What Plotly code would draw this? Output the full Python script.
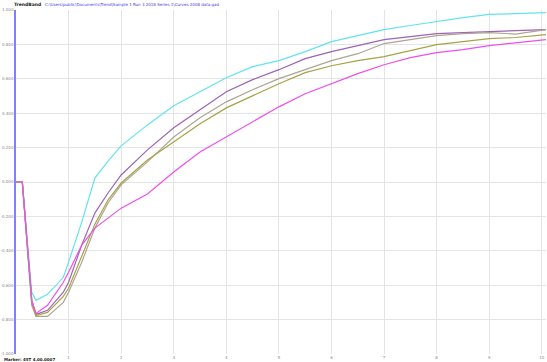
import plotly.graph_objects as go

x = [0, 0.12, 0.3, 0.38, 0.6, 0.9, 1.0, 1.25, 1.5, 1.75, 2.0, 2.5, 3, 3.5, 4, 4.5,
     5, 5.5, 6, 6.5, 7, 7.5, 8, 8.5, 9, 9.5, 10, 10.08]

cyan = [0, 0, -0.641, -0.688, -0.653, -0.554, -0.466, -0.233, 0.023, 0.122, 0.210, 0.332,
        0.443, 0.525, 0.606, 0.671, 0.706, 0.758, 0.816, 0.851, 0.886, 0.910, 0.933,
        0.956, 0.974, 0.980, 0.985, 0.985]
purple = [0, 0, -0.688, -0.770, -0.746, -0.641, -0.583, -0.367, -0.181, -0.064, 0.041, 0.187,
          0.315, 0.420, 0.525, 0.595, 0.653, 0.717, 0.758, 0.793, 0.828, 0.845, 0.863,
          0.869, 0.875, 0.880, 0.886, 0.886]
grey = [0, 0, -0.717, -0.781, -0.781, -0.700, -0.641, -0.466, -0.268, -0.122, -0.017, 0.117,
        0.262, 0.373, 0.466, 0.536, 0.601, 0.653, 0.706, 0.746, 0.805, 0.828, 0.851,
        0.863, 0.869, 0.860, 0.886, 0.886]
olive = [0, 0, -0.706, -0.776, -0.758, -0.665, -0.618, -0.426, -0.245, -0.105, -0.006, 0.128,
         0.233, 0.338, 0.431, 0.501, 0.571, 0.636, 0.676, 0.706, 0.729, 0.764, 0.799,
         0.816, 0.834, 0.840, 0.851, 0.857]
magenta = [0, 0, -0.688, -0.764, -0.717, -0.583, -0.525, -0.367, -0.268, -0.210, -0.152, -0.070,
           0.058, 0.175, 0.262, 0.350, 0.437, 0.513, 0.571, 0.630, 0.682, 0.723, 0.752,
           0.770, 0.793, 0.810, 0.828, 0.828]

series = [("cyan", cyan, "#63e3ee"), ("purple", purple, "#9c64b4"), ("grey", grey, "#b0a494"),
          ("olive", olive, "#a6a446"), ("magenta", magenta, "#ec50ec")]

y_ticks = [-1.0, -0.8, -0.6, -0.4, -0.2, 0.0, 0.2, 0.4, 0.6, 0.8, 1.0]
y_tick_text = ["%.3f" % v for v in y_ticks]
x_ticks = [1, 2, 3, 4, 5, 6, 7, 8, 9, 10]

fig = go.Figure()
for name, ys, col in series:
    fig.add_trace(go.Scatter(x=x, y=ys, mode="lines", name=name,
                             line=dict(color=col, width=1.2)))

fig.update_layout(
    width=547, height=362,
    margin=dict(l=14, r=1, t=10, b=8),
    paper_bgcolor="white", plot_bgcolor="white",
    showlegend=False,
    font=dict(family="DejaVu Sans", size=4, color="#888888"),
    xaxis=dict(range=[0, 10.08], tickvals=x_ticks, ticktext=[str(v) for v in x_ticks],
               showgrid=True, gridcolor="#e4e4e4", gridwidth=1, zeroline=False,
               showline=False, ticks="", ticklen=0, tickfont=dict(size=4, color="#888888")),
    yaxis=dict(range=[-1.0, 1.0], tickvals=y_ticks, ticktext=y_tick_text,
               showgrid=True, gridcolor="#e4e4e4", gridwidth=1, zeroline=False,
               showline=True, linecolor="#8080ff", linewidth=1.5, ticks="",
               tickfont=dict(size=4, color="#888888")),
)

fig.add_annotation(text="<b>TrendBand</b>", xref="paper", yref="paper", x=-0.006, y=1.0,
                   yshift=6, xanchor="left", yanchor="middle", showarrow=False, borderpad=0,
                   font=dict(size=4.5, color="#222222"))
fig.add_annotation(text="C:\\Users\\public\\Documents\\Trend\\Sample 1 Run 3 2018 Series 1\\Curves 2008 data.gad",
                   xref="paper", yref="paper", x=0.053, y=1.0, yshift=6, borderpad=0,
                   xanchor="left", yanchor="middle", showarrow=False,
                   font=dict(size=4, color="#4040e0"))
fig.add_annotation(text="<b>Marker: 4ST 4.00.0007</b>", xref="paper", yref="paper",
                   x=-0.024, y=0, yshift=-5, xanchor="left", yanchor="middle", borderpad=0,
                   showarrow=False, font=dict(size=4, color="#222222"))

fig.write_html("out.html", config={"displayModeBar": False},
               post_script="document.body.style.margin='0';document.body.style.overflow='hidden';")
